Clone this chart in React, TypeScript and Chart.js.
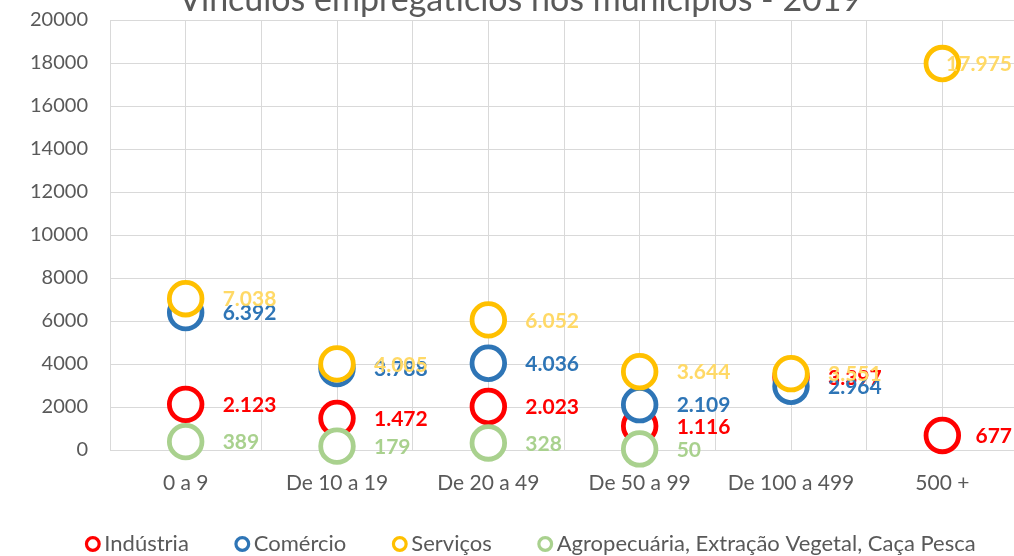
import { useEffect, useRef } from 'react';
import { Chart, registerables } from 'chart.js';

Chart.register(...registerables);

const titleText = 'Vínculos empregatícios nos municípios - 2019';
const categories = ['0 a 9', 'De 10 a 19', 'De 20 a 49', 'De 50 a 99', 'De 100 a 499', '500 +'];
const seriesNames = ['Indústria', 'Comércio', 'Serviços', 'Agropecuária, Extração Vegetal, Caça Pesca'];
const industria: (number | null)[] = [2123, 1472, 2023, 1116, 3397, 677];
const comercio: (number | null)[] = [6392, 3788, 4036, 2109, 2964, null];
const servicos: (number | null)[] = [7038, 4005, 6052, 3644, 3551, 17975];
const agro: (number | null)[] = [389, 179, 328, 50, null, null];
const yMin = 0;
const yMax = 20000;
const yStep = 2000;

const ringColors = ['#FF0000', '#2E75B6', '#FFC000', '#A9D18E'];
const labelColors = ['#FF0000', '#2E75B6', '#FFD966', '#A9D18E'];
const textGray = '#595959';
const gridGray = '#D9D9D9';
const FONT = 'Lato, sans-serif';

const CANVAS_W = 1018;
const CANVAS_H = 625;
const VISIBLE_RIGHT = 1012;

const fmt = (v: number) => String(v).replace(/\B(?=(\d{3})+(?!\d))/g, '.');

const valueLabels = {
  id: 'valueLabels',
  afterDatasetsDraw(chart: any) {
    const ctx = chart.ctx;
    ctx.save();
    ctx.font = `bold 21px ${FONT}`;
    ctx.textAlign = 'left';
    ctx.textBaseline = 'middle';
    chart.data.datasets.forEach((ds: any, i: number) => {
      const meta = chart.getDatasetMeta(i);
      ctx.fillStyle = labelColors[i];
      meta.data.forEach((el: any, j: number) => {
        const raw = ds.data[j];
        if (!raw || raw.y == null) return;
        const txt = fmt(raw.y);
        const w = ctx.measureText(txt).width;
        let x = el.x + 37;
        if (x + w > VISIBLE_RIGHT) x = VISIBLE_RIGHT - w;
        ctx.fillText(txt, x, el.y + 1);
      });
    });
    ctx.restore();
  },
};

const boxShift = {
  id: 'boxShift',
  afterLayout(chart: any) {
    const l = chart.legend;
    if (l) {
      l.left += 25;
      l.right += 25;
      l.top -= 30;
      l.bottom -= 30;
    }
    const t = chart.titleBlock;
    if (t) {
      t.left += 11;
      t.right += 11;
    }
  },
};

export default function App() {
  const ref = useRef<HTMLCanvasElement | null>(null);

  useEffect(() => {
    let chart: Chart | null = null;
    let cancelled = false;
    const make = () => {
      if (cancelled || !ref.current) return;
      const series = [industria, comercio, servicos, agro];
      const datasets = series.map((vals, i) => ({
        label: seriesNames[i],
        data: vals.map((v, j) => ({ x: j + 0.5, y: v })),
        borderColor: ringColors[i],
        backgroundColor: '#FFFFFF',
        pointBackgroundColor: '#FFFFFF',
        pointBorderColor: ringColors[i],
        pointRadius: 16.3,
        pointHoverRadius: 16.3,
        pointBorderWidth: 4.8,
        showLine: false,
        order: 4 - i,
        clip: false as any,
      }));
      chart = new Chart(ref.current, {
        type: 'scatter',
        data: { datasets },
        plugins: [valueLabels, boxShift],
        options: {
          animation: false,
          responsive: false,
          events: [],
          layout: { padding: 0, autoPadding: false },
          plugins: {
            tooltip: { enabled: false },
            title: {
              display: true,
              text: titleText,
              color: textGray,
              font: { family: FONT, size: 34, weight: 'normal' },
              padding: { top: 9.2, bottom: 0 },
            },
            legend: {
              position: 'bottom',
              labels: {
                usePointStyle: true,
                boxWidth: 1,
                boxHeight: 9,
                padding: 53,
                color: textGray,
                font: { family: FONT, size: 22 },
                generateLabels: () =>
                  seriesNames.map((n, i) => ({
                    text: n,
                    fillStyle: '#FFFFFF',
                    strokeStyle: ringColors[i],
                    lineWidth: 3.2,
                    pointStyle: 'circle',
                    fontColor: textGray,
                    hidden: false,
                    datasetIndex: i,
                  })),
              },
            },
          },
          scales: {
            x: {
              type: 'linear',
              min: 0,
              max: categories.length,
              grid: { color: gridGray, drawTicks: true, tickLength: 21, tickColor: 'rgba(0,0,0,0)' },
              border: { color: gridGray },
              afterFit: (s: any) => {
                s.height = 60;
              },
              ticks: {
                stepSize: 0.5,
                autoSkip: false,
                maxRotation: 0,
                padding: 0,
                color: textGray,
                font: { family: FONT, size: 21 },
                callback: (v: any) => {
                  const n = Number(v) - 0.5;
                  const i = Math.round(n);
                  return Math.abs(n - i) < 1e-6 && categories[i] ? categories[i] : '';
                },
              },
            },
            y: {
              min: yMin,
              max: yMax,
              grid: { color: gridGray, drawTicks: false },
              border: { color: gridGray },
              afterFit: (s: any) => {
                s.width = 110;
              },
              ticks: {
                stepSize: yStep,
                padding: 22,
                color: textGray,
                font: { family: FONT, size: 20 },
                callback: (v: any) => String(v),
              },
            },
          },
        },
      });
    };
    const fontsReady = (document as any).fonts
      ? Promise.all([
          (document as any).fonts.load(`20px Lato`),
          (document as any).fonts.load(`bold 20px Lato`),
        ]).catch(() => null)
      : Promise.resolve(null);
    fontsReady.then(make);
    return () => {
      cancelled = true;
      if (chart) chart.destroy();
    };
  }, []);

  return (
    <div
      style={{
        position: 'fixed',
        left: 0,
        top: 0,
        width: 1014,
        height: 556,
        overflow: 'hidden',
        background: '#FFFFFF',
      }}
    >
      <div style={{ position: 'absolute', left: 0, top: -30, width: CANVAS_W, height: CANVAS_H }}>
        <canvas ref={ref} width={CANVAS_W} height={CANVAS_H} style={{ display: 'block' }} />
      </div>
    </div>
  );
}
